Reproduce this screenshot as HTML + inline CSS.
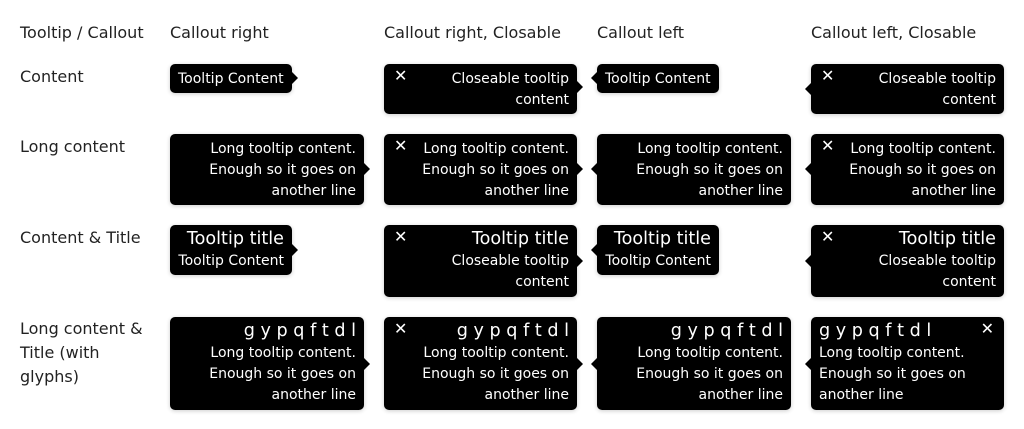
<!DOCTYPE html>
<html><head><meta charset="utf-8"><style>
body{margin:0;width:1024px;height:429px;background:#fff;font-family:"DejaVu Sans","Liberation Sans",sans-serif;position:relative;overflow:hidden}
.l{position:absolute;font-size:16px;color:#222;line-height:24px;margin-top:1px}
.t{position:absolute;background:#000;color:#fff;border-radius:5px;font-size:14px;line-height:21px;padding:5px 8px 3px;box-sizing:border-box;box-shadow:0 1px 4px rgba(0,0,0,.2)}
.r{text-align:right}
.ti{font-size:17.6px;line-height:24px}
.x{position:absolute;left:10px;top:3px;font-size:16px;font-weight:bold;line-height:18px}
.ar:after{content:"";position:absolute;right:-6px;top:var(--y);border-left:6px solid #000;border-top:6px solid transparent;border-bottom:6px solid transparent}
.al:after{content:"";position:absolute;left:-6px;top:var(--y);border-right:6px solid #000;border-top:6px solid transparent;border-bottom:6px solid transparent}
</style></head><body>
<div class="l" style="left:20px;top:20px">Tooltip / Callout</div>
<div class="l" style="left:170px;top:20px">Callout right</div>
<div class="l" style="left:384px;top:20px">Callout right, Closable</div>
<div class="l" style="left:597px;top:20px">Callout left</div>
<div class="l" style="left:811px;top:20px">Callout left, Closable</div>
<div class="l" style="left:20px;top:64px">Content</div>
<div class="l" style="left:20px;top:134px">Long content</div>
<div class="l" style="left:20px;top:225px">Content &amp; Title</div>
<div class="l" style="left:20px;top:316px">Long content &amp;<br>Title (with<br>glyphs)</div>

<!-- row1 -->
<div class="t ar" style="left:170px;top:64px;width:122px;height:29px;padding-top:5px;--y:8px">Tooltip Content</div>
<div class="t ar r" style="left:384px;top:64px;width:193px;height:50px;--y:17px"><span class="x">✕</span>Closeable tooltip<br>content</div>
<div class="t al" style="left:597px;top:64px;width:122px;height:29px;padding-top:5px;--y:8px">Tooltip Content</div>
<div class="t al r" style="left:811px;top:64px;width:193px;height:50px;--y:19px"><span class="x">✕</span>Closeable tooltip<br>content</div>

<!-- row2 -->
<div class="t ar r" style="left:170px;top:134px;width:194px;height:71px;--y:29px">Long tooltip content.<br>Enough so it goes on<br>another line</div>
<div class="t ar r" style="left:384px;top:134px;width:193px;height:71px;--y:29px"><span class="x">✕</span>Long tooltip content.<br>Enough so it goes on<br>another line</div>
<div class="t al r" style="left:597px;top:134px;width:194px;height:71px;--y:29px">Long tooltip content.<br>Enough so it goes on<br>another line</div>
<div class="t al r" style="left:811px;top:134px;width:193px;height:71px;--y:29px"><span class="x">✕</span>Long tooltip content.<br>Enough so it goes on<br>another line</div>

<!-- row3 -->
<div class="t ar r" style="left:170px;top:225px;width:122px;height:50px;padding-top:2px;--y:19px"><div class="ti">Tooltip title</div>Tooltip Content</div>
<div class="t ar r" style="left:384px;top:225px;width:193px;height:72px;padding-top:2px;--y:30px"><span class="x">✕</span><div class="ti">Tooltip title</div>Closeable tooltip<br>content</div>
<div class="t al r" style="left:597px;top:225px;width:122px;height:50px;padding-top:2px;--y:19px"><div class="ti">Tooltip title</div>Tooltip Content</div>
<div class="t al r" style="left:811px;top:225px;width:193px;height:72px;padding-top:2px;--y:30px"><span class="x">✕</span><div class="ti">Tooltip title</div>Closeable tooltip<br>content</div>

<!-- row4 -->
<div class="t ar r" style="left:170px;top:317px;width:194px;height:93px;padding-top:2px;--y:41px"><div class="ti">g y p q f t d l</div>Long tooltip content.<br>Enough so it goes on<br>another line</div>
<div class="t ar r" style="left:384px;top:317px;width:193px;height:93px;padding-top:2px;--y:41px"><span class="x">✕</span><div class="ti">g y p q f t d l</div>Long tooltip content.<br>Enough so it goes on<br>another line</div>
<div class="t al r" style="left:597px;top:317px;width:194px;height:93px;padding-top:2px;--y:41px"><div class="ti">g y p q f t d l</div>Long tooltip content.<br>Enough so it goes on<br>another line</div>
<div class="t al" style="left:811px;top:317px;width:193px;height:93px;padding-top:2px;--y:41px"><span class="x" style="left:auto;right:10px">✕</span><div class="ti">g y p q f t d l</div>Long tooltip content.<br>Enough so it goes on<br>another line</div>
</body></html>
